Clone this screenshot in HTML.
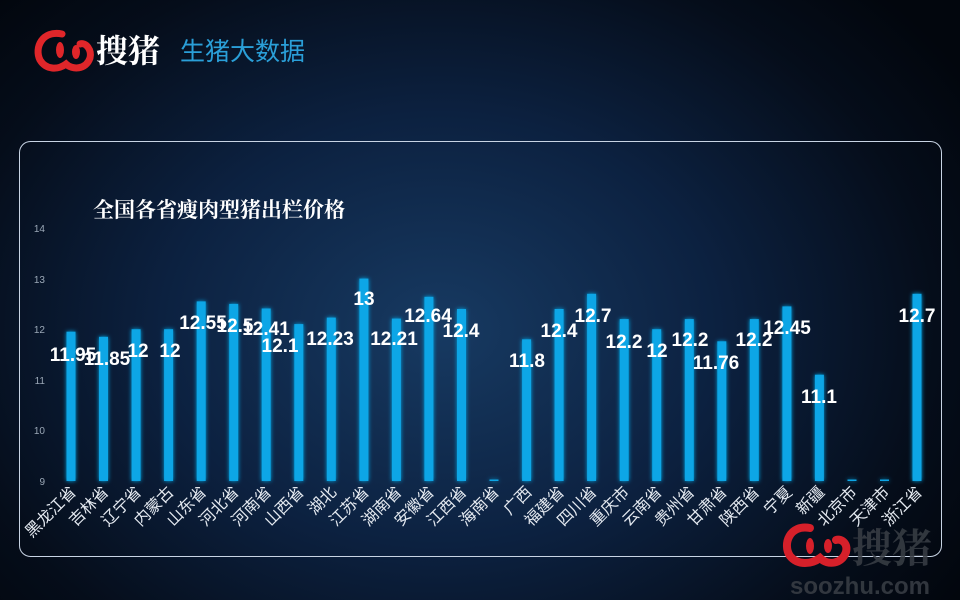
<!DOCTYPE html>
<html><head><meta charset="utf-8"><style>
html,body{margin:0;padding:0;width:960px;height:600px;overflow:hidden;}
body{background:radial-gradient(ellipse 620px 480px at 440px 330px,#173a62 0%,#0c2140 45%,#050d1a 80%,#02060d 100%);font-family:"Liberation Sans","Noto Sans CJK SC",sans-serif;}
</style></head><body>
<svg width="960" height="600" viewBox="0 0 960 600" xmlns="http://www.w3.org/2000/svg" style="position:absolute;left:0;top:0">
<defs>
<filter id="g" x="-100%" y="-10%" width="300%" height="120%"><feGaussianBlur stdDeviation="2.2" result="b"/><feMerge><feMergeNode in="b"/><feMergeNode in="SourceGraphic"/></feMerge></filter>
</defs>
<g>
<path d="M62 34 C42 30 34 48 40 60 C46 70 58 70 66 64 C72 70 86 70 90 58 C92 50 86 42 80 44" fill="none" stroke="#e0262a" stroke-width="7" stroke-linecap="round"/>
<ellipse cx="60" cy="50" rx="4" ry="8" fill="#e0262a"/>
<ellipse cx="76" cy="52" rx="4" ry="7" fill="#e0262a"/>
<text x="96" y="62" font-family="'Noto Serif CJK SC',serif" font-weight="bold" font-size="32" fill="#fff">搜猪</text>
<text x="180" y="60" font-family="'Liberation Sans','Noto Sans CJK SC',sans-serif" font-size="25" fill="#2a9fd8">生猪大数据</text>
</g>
<rect x="19.5" y="141.5" width="922" height="415" rx="11" fill="none" stroke="#c8d4e4" stroke-width="1"/>
<text x="93" y="217" font-family="'Noto Serif CJK SC',serif" font-weight="bold" font-size="21" fill="#fff">全国各省瘦肉型猪出栏价格</text>
<g font-size="10" fill="#9aa7b6" text-anchor="end" font-family="'Liberation Sans',sans-serif">
<text x="45" y="232">14</text><text x="45" y="283">13</text><text x="45" y="333">12</text><text x="45" y="384">11</text><text x="45" y="434">10</text><text x="45" y="485">9</text>
</g>
<g fill="#0aa6e6" filter="url(#g)">
<rect x="66.5" y="331.7" width="9" height="149.3"/>
<rect x="99" y="336.8" width="9" height="144.2"/>
<rect x="131.6" y="329.2" width="9" height="151.8"/>
<rect x="164.1" y="329.2" width="9" height="151.8"/>
<rect x="196.7" y="301.4" width="9" height="179.6"/>
<rect x="229.2" y="303.9" width="9" height="177.1"/>
<rect x="261.7" y="308.5" width="9" height="172.5"/>
<rect x="294.3" y="324.1" width="9" height="156.9"/>
<rect x="326.8" y="317.6" width="9" height="163.4"/>
<rect x="359.4" y="278.6" width="9" height="202.4"/>
<rect x="391.9" y="318.6" width="9" height="162.4"/>
<rect x="424.4" y="296.8" width="9" height="184.2"/>
<rect x="457" y="309" width="9" height="172"/>
<rect x="489.5" y="479.5" width="9" height="1.5"/>
<rect x="522.1" y="339.3" width="9" height="141.7"/>
<rect x="554.6" y="309" width="9" height="172"/>
<rect x="587.1" y="293.8" width="9" height="187.2"/>
<rect x="619.7" y="319.1" width="9" height="161.9"/>
<rect x="652.2" y="329.2" width="9" height="151.8"/>
<rect x="684.8" y="319.1" width="9" height="161.9"/>
<rect x="717.3" y="341.3" width="9" height="139.7"/>
<rect x="749.8" y="319.1" width="9" height="161.9"/>
<rect x="782.4" y="306.4" width="9" height="174.6"/>
<rect x="814.9" y="374.7" width="9" height="106.3"/>
<rect x="847.5" y="479.5" width="9" height="1.5"/>
<rect x="880" y="479.5" width="9" height="1.5"/>
<rect x="912.5" y="293.8" width="9" height="187.2"/>
</g>
<g font-size="19" font-weight="bold" fill="#fff" text-anchor="middle" font-family="'Liberation Sans',sans-serif">
<text x="73" y="361">11.95</text>
<text x="107" y="365">11.85</text>
<text x="138" y="357">12</text>
<text x="170" y="357">12</text>
<text x="203" y="329">12.55</text>
<text x="235" y="332">12.5</text>
<text x="266" y="335">12.41</text>
<text x="280" y="352">12.1</text>
<text x="330" y="345">12.23</text>
<text x="364" y="305">13</text>
<text x="394" y="345">12.21</text>
<text x="428" y="322">12.64</text>
<text x="461" y="337">12.4</text>
<text x="527" y="367">11.8</text>
<text x="559" y="337">12.4</text>
<text x="593" y="322">12.7</text>
<text x="624" y="348">12.2</text>
<text x="657" y="357">12</text>
<text x="690" y="346">12.2</text>
<text x="716" y="369">11.76</text>
<text x="754" y="346">12.2</text>
<text x="787" y="334">12.45</text>
<text x="819" y="403">11.1</text>
<text x="917" y="322">12.7</text>
</g>
<g font-size="16" fill="#e4e9f0" text-anchor="end">
<text transform="translate(77,493) rotate(-45)">黑龙江省</text>
<text transform="translate(109.5,493) rotate(-45)">吉林省</text>
<text transform="translate(142.1,493) rotate(-45)">辽宁省</text>
<text transform="translate(174.6,493) rotate(-45)">内蒙古</text>
<text transform="translate(207.2,493) rotate(-45)">山东省</text>
<text transform="translate(239.7,493) rotate(-45)">河北省</text>
<text transform="translate(272.2,493) rotate(-45)">河南省</text>
<text transform="translate(304.8,493) rotate(-45)">山西省</text>
<text transform="translate(337.3,493) rotate(-45)">湖北</text>
<text transform="translate(369.9,493) rotate(-45)">江苏省</text>
<text transform="translate(402.4,493) rotate(-45)">湖南省</text>
<text transform="translate(434.9,493) rotate(-45)">安徽省</text>
<text transform="translate(467.5,493) rotate(-45)">江西省</text>
<text transform="translate(500,493) rotate(-45)">海南省</text>
<text transform="translate(532.6,493) rotate(-45)">广西</text>
<text transform="translate(565.1,493) rotate(-45)">福建省</text>
<text transform="translate(597.6,493) rotate(-45)">四川省</text>
<text transform="translate(630.2,493) rotate(-45)">重庆市</text>
<text transform="translate(662.7,493) rotate(-45)">云南省</text>
<text transform="translate(695.3,493) rotate(-45)">贵州省</text>
<text transform="translate(727.8,493) rotate(-45)">甘肃省</text>
<text transform="translate(760.3,493) rotate(-45)">陕西省</text>
<text transform="translate(792.9,493) rotate(-45)">宁夏</text>
<text transform="translate(825.4,493) rotate(-45)">新疆</text>
<text transform="translate(858,493) rotate(-45)">北京市</text>
<text transform="translate(890.5,493) rotate(-45)">天津市</text>
<text transform="translate(923,493) rotate(-45)">浙江省</text>
</g>
<g>
<path d="M810 528 C790 524 782 544 790 556 C798 566 812 564 820 558 C828 566 842 564 846 552 C848 544 842 538 836 540" fill="none" stroke="#d6202a" stroke-width="8" stroke-linecap="round"/>
<ellipse cx="810" cy="546" rx="4" ry="8" fill="#d6202a"/>
<ellipse cx="828" cy="546" rx="4" ry="7" fill="#d6202a"/>
<text x="852" y="562" font-family="'Noto Serif CJK SC',serif" font-weight="bold" font-size="40" fill="#3a3f46" opacity="0.85">搜猪</text>
<text x="790" y="594" font-family="'Liberation Sans',sans-serif" font-weight="bold" font-size="24" fill="#3a3f46" opacity="0.85">soozhu.com</text>
</g>
</svg>
</body></html>
